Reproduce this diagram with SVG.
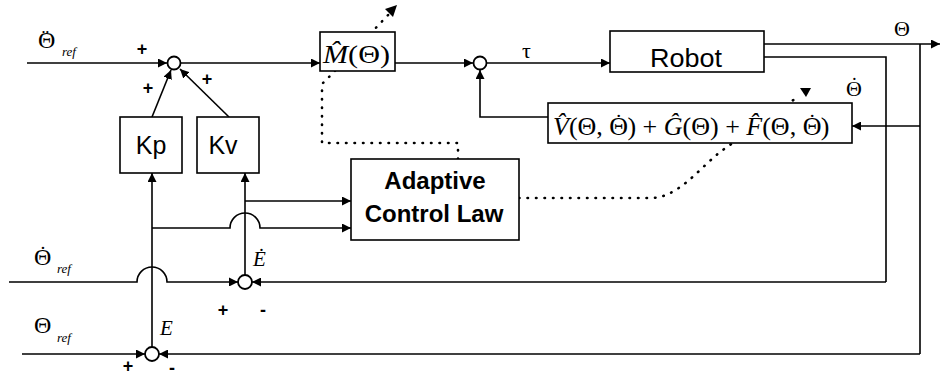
<svg xmlns="http://www.w3.org/2000/svg" width="941" height="377" viewBox="0 0 941 377">
<style>
.box{fill:#fff;stroke:#000;stroke-width:1.6}
.ln{fill:none;stroke:#000;stroke-width:1.6}
.arr{marker-end:url(#ah)}
.dot{fill:none;stroke:#000;stroke-width:2.6;stroke-linecap:round;stroke-dasharray:0.5 8}
.sum{fill:#fff;stroke:#000;stroke-width:1.8}
.sans{font-family:"Liberation Sans",Arial,sans-serif;fill:#000}
.serif{font-family:"Liberation Serif","Times New Roman",serif;fill:#000}
.sub{font-family:"Liberation Serif","Times New Roman",serif;font-style:italic;font-size:13px}
.sign{font-family:"Liberation Sans",Arial,sans-serif;font-weight:bold;font-size:18px}
</style>
<defs>
<marker id="ah" viewBox="0 0 10 10" refX="10" refY="5" markerWidth="9" markerHeight="9" markerUnits="userSpaceOnUse" orient="auto">
<path d="M0,0 L10,5 L0,10 z" fill="#000"/>
</marker>
</defs>
<rect width="941" height="377" fill="#fff"/>

<g id="connectors">
<path class="ln arr" d="M27,63 L167,63"/>
<path class="ln arr" d="M152,117 L171,70"/>
<path class="ln arr" d="M229,117 L180,69"/>
<path class="ln arr" d="M181,63 L320,63"/>
<path class="ln arr" d="M395,63 L473,63"/>
<path class="ln arr" d="M487,63 L610,63"/>
<path class="ln arr" d="M764,44 L940,44"/>
<path class="ln" d="M764,57 L886,57 L886,282"/>
<path class="ln arr" d="M886,282 L252,282"/>
<path class="ln" d="M920,44 L920,354"/>
<path class="ln arr" d="M920,354 L159,354"/>
<path class="ln arr" d="M920,126 L852,126"/>
<path class="ln arr" d="M548,117 L480,117 L480,70"/>
<path class="ln arr" d="M9,282 L137,282 A15,15 0 0 1 167,282 L238,282"/>
<path class="ln arr" d="M22,354 L145,354"/>
<path class="ln arr" d="M152,347 L152,173"/>
<path class="ln arr" d="M245,275 L245,173"/>
<path class="ln arr" d="M245,201 L351,201"/>
<path class="ln arr" d="M152,228 L230,228 A15,15 0 0 1 260,228 L351,228"/>
<path class="dot" d="M458,159 L458,143 L322,143 L322,84 L330,76 L391,12"/>
<polygon points="397,5 385,9 393,17" fill="#000"/>
<path class="dot" d="M519,198 L652,198 C678,197 698,170 720,152 L799,96"/>
<polygon points="800,88 811,88 806,97" fill="#000"/>
</g>

<g id="sum1"><circle class="sum" cx="174" cy="63" r="6.5"/></g>
<g id="sum2"><circle class="sum" cx="480" cy="63" r="6.5"/></g>
<g id="sumEdot"><circle class="sum" cx="245" cy="282" r="7"/></g>
<g id="sumE"><circle class="sum" cx="152" cy="354" r="7"/></g>

<g id="Kp">
<rect class="box" x="120" y="117" width="62" height="56"/>
<text class="sans" x="151" y="154" font-size="25" text-anchor="middle">Kp</text>
</g>
<g id="Kv">
<rect class="box" x="197" y="117" width="62" height="56"/>
<text class="sans" x="223" y="154" font-size="25" text-anchor="middle">Kv</text>
</g>
<g id="Mhat">
<rect class="box" x="320" y="32" width="75" height="39"/>
<text class="serif" x="323" y="63" font-size="25" textLength="67" lengthAdjust="spacingAndGlyphs"><tspan font-style="italic">M&#770;</tspan>(Θ)</text>
</g>
<g id="Robot">
<rect class="box" x="610" y="31" width="154" height="41"/>
<text class="sans" x="650" y="67" font-size="25" textLength="72" lengthAdjust="spacingAndGlyphs">Robot</text>
</g>
<g id="VGF">
<rect class="box" x="548" y="103" width="304" height="40"/>
<text class="serif" x="553" y="135" font-size="26"><tspan font-style="italic">V&#770;</tspan>(Θ, Θ<tspan dx="-13" dy="-6" font-size="22">˙</tspan><tspan dx="5" dy="6">) + </tspan><tspan font-style="italic">G&#770;</tspan>(Θ) + <tspan font-style="italic">F&#770;</tspan>(Θ, Θ<tspan dx="-13" dy="-6" font-size="22">˙</tspan><tspan dx="5" dy="6">)</tspan></text>
</g>
<g id="Adaptive">
<rect class="box" x="351" y="159" width="168" height="81"/>
<text class="sans" x="435" y="189" font-size="24" font-weight="bold" text-anchor="middle">Adaptive</text>
<text class="sans" x="434" y="222" font-size="24" font-weight="bold" text-anchor="middle">Control Law</text>
</g>

<g id="labels">
<text class="serif" x="38" y="48" font-size="24">Θ<tspan dx="-13.5" dy="-4" font-size="22">¨</tspan><tspan class="sub" x="62" y="56">ref</tspan></text>
<text class="serif" x="34" y="265" font-size="24">Θ<tspan dx="-12" dy="-4" font-size="22">˙</tspan><tspan class="sub" x="57" y="273">ref</tspan></text>
<text class="serif" x="34" y="333" font-size="24">Θ<tspan class="sub" x="57" y="342">ref</tspan></text>
<text class="serif" x="894" y="36" font-size="22">Θ</text>
<text class="serif" x="846" y="96" font-size="22">Θ<tspan dx="-11" dy="-4" font-size="20">˙</tspan></text>
<text class="serif" x="522" y="58" font-size="22">τ</text>
<text class="serif" x="253" y="266" font-size="21" font-style="italic">E&#775;</text>
<text class="serif" x="160" y="335" font-size="21" font-style="italic">E</text>
<text class="sign" x="142" y="55" text-anchor="middle">+</text>
<text class="sign" x="148" y="94" text-anchor="middle">+</text>
<text class="sign" x="207" y="85" text-anchor="middle">+</text>
<text class="sign" x="223" y="316" text-anchor="middle">+</text>
<text class="sign" x="263" y="316" text-anchor="middle">-</text>
<text class="sign" x="128" y="372" text-anchor="middle">+</text>
<text class="sign" x="172" y="374" text-anchor="middle">-</text>
</g>
</svg>
